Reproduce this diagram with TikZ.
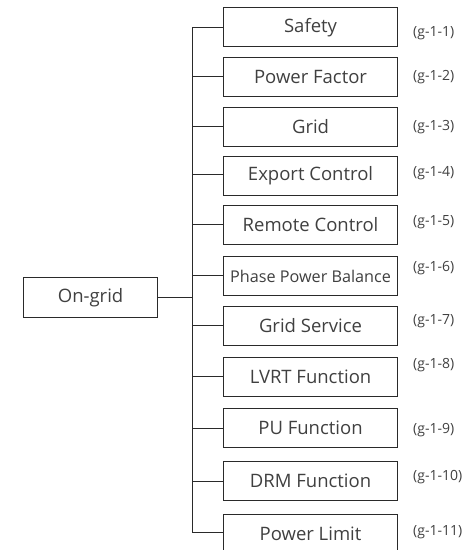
\documentclass[tikz,border=0pt]{standalone}
\usepackage{fontspec}
\setmainfont{Open Sans}
\definecolor{txt}{HTML}{404040}
\definecolor{ln}{HTML}{2A2A2A}
\begin{document}
\begin{tikzpicture}[x=1pt,y=-1pt,
  item/.style={draw=ln,line width=1.1pt,fill=white,minimum width=174pt,minimum height=39pt,
    inner sep=0pt,anchor=north west,font=\fontsize{18.5}{20}\selectfont,text=txt},
  root/.style={draw=ln,line width=1.1pt,fill=white,minimum width=134.6pt,minimum height=39.4pt,
    inner sep=0pt,anchor=north west,font=\fontsize{18.5}{20}\selectfont,text=txt},
  tag/.style={anchor=west,inner sep=0pt,font=\fontsize{14}{16}\selectfont,text=txt},
  conn/.style={draw=ln,line width=0.9pt}]
\useasboundingbox (0,0) rectangle (469,550);
\node[root] (on) at (22.7,277.3) {On-grid};
\coordinate (top) at (192,27.5);
\coordinate (bot) at (192,532.7);
\coordinate (mid) at (on.east -| top);
\node[item] (b1) at (223,7.3) {Safety};
\node[item] (b2) at (223,57.3) {Power Factor};
\node[item] (b3) at (223,106.7) {Grid};
\node[item] (b4) at (223,155.7) {Export Control};
\node[item] (b5) at (223,205) {Remote Control};
\node[item] (b6) at (223,256) {\fontsize{16.2}{18}\selectfont Phase Power Balance};
\node[item] (b7) at (223,306) {Grid Service};
\node[item] (b8) at (223,356.7) {LVRT Function};
\node[item] (b9) at (223,407.7) {PU Function};
\node[item] (b10) at (223,460.7) {DRM Function};
\node[item] (b11) at (223,514) {Power Limit};
\draw[conn] (top) -- (bot);
\draw[conn] (on.east) -- (mid);
\foreach \i/\y in {1/27.5,2/76.7,3/126.2,4/174.5,5/224.4,6/275.5,7/325.5,8/376.5,9/428.2,10/481,11/532.7}{
  \draw[conn] (192,\y) -- (b\i.west |- 0,\y);
}
\node[tag] (t1) at (413,33.3) {(g-1-1)};
\node[tag] (t2) at (413,76.7) {(g-1-2)};
\node[tag] (t3) at (413,126.7) {(g-1-3)};
\node[tag] (t4) at (413,173.3) {(g-1-4)};
\node[tag] (t5) at (413,221.7) {(g-1-5)};
\node[tag] (t6) at (413,268) {(g-1-6)};
\node[tag] (t7) at (413,321) {(g-1-7)};
\node[tag] (t8) at (413,365) {(g-1-8)};
\node[tag] (t9) at (413,430) {(g-1-9)};
\node[tag] (t10) at (413,476.7) {(g-1-10)};
\node[tag] (t11) at (413,531.7) {(g-1-11)};
\end{tikzpicture}
\end{document}
